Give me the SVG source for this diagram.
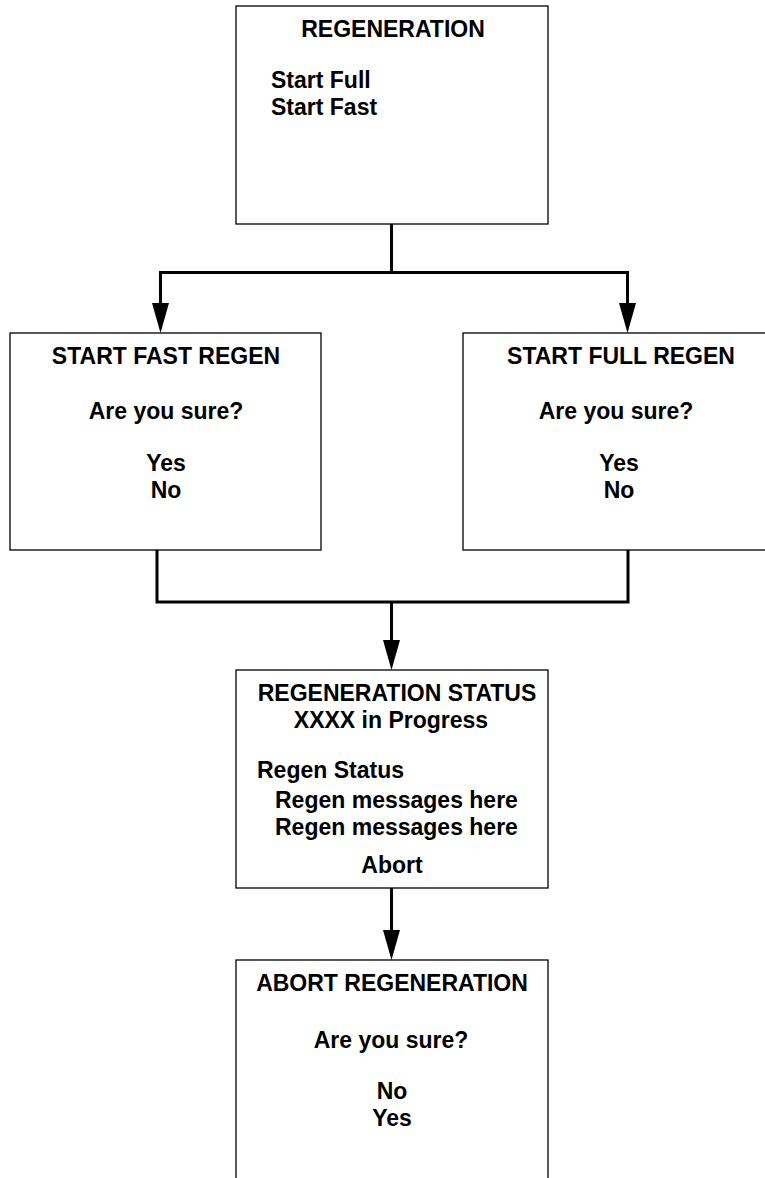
<svg xmlns="http://www.w3.org/2000/svg" width="765" height="1178" viewBox="0 0 765 1178">
<style>
.box{fill:#fff;stroke:#000;stroke-width:1.3}
.t{font-family:"Liberation Sans",Arial,sans-serif;font-weight:bold;font-size:23px;fill:#000}
.c{text-anchor:middle}
.conn{fill:none;stroke:#000;stroke-width:3}
</style>
<rect width="765" height="1178" fill="#fff"/>
<g id="connectors">
<path class="conn" d="M391.5,224 V272.5 H160.5 V303"/>
<path class="conn" d="M391.5,272.5 H627.5 V303"/>
<path d="M152,303 L169,303 L160.5,333 Z" fill="#000"/>
<path d="M619,303 L636,303 L627.5,333 Z" fill="#000"/>
<path class="conn" d="M157,550 V602 H628 V550"/>
<path class="conn" d="M391.5,602 V640"/>
<path d="M383,640 L400,640 L391.5,670 Z" fill="#000"/>
<path class="conn" d="M391.5,888 V930"/>
<path d="M383,930 L400,930 L391.5,960 Z" fill="#000"/>
</g>
<g id="regeneration">
<rect class="box" x="236" y="6" width="312" height="218"/>
<text class="t c" x="393" y="37">REGENERATION</text>
<text class="t" x="271" y="88">Start Full</text>
<text class="t" x="271" y="115">Start Fast</text>
</g>
<g id="start-fast">
<rect class="box" x="10" y="333" width="311" height="217"/>
<text class="t c" x="166" y="364">START FAST REGEN</text>
<text class="t c" x="166" y="419">Are you sure?</text>
<text class="t c" x="166" y="471">Yes</text>
<text class="t c" x="166" y="498">No</text>
</g>
<g id="start-full">
<rect class="box" x="463" y="333" width="310" height="217"/>
<text class="t c" x="621" y="364">START FULL REGEN</text>
<text class="t c" x="616" y="419">Are you sure?</text>
<text class="t c" x="619" y="471">Yes</text>
<text class="t c" x="619" y="498">No</text>
</g>
<g id="regen-status">
<rect class="box" x="236" y="670" width="312" height="218"/>
<text class="t c" x="397" y="701">REGENERATION STATUS</text>
<text class="t c" x="391" y="728">XXXX in Progress</text>
<text class="t" x="257" y="778">Regen Status</text>
<text class="t" x="275" y="808">Regen messages here</text>
<text class="t" x="275" y="835">Regen messages here</text>
<text class="t c" x="392" y="873">Abort</text>
</g>
<g id="abort-regen">
<rect class="box" x="236" y="960" width="312" height="230"/>
<text class="t c" x="392" y="991">ABORT REGENERATION</text>
<text class="t c" x="391" y="1048">Are you sure?</text>
<text class="t c" x="392" y="1099">No</text>
<text class="t c" x="392" y="1126">Yes</text>
</g>
</svg>
